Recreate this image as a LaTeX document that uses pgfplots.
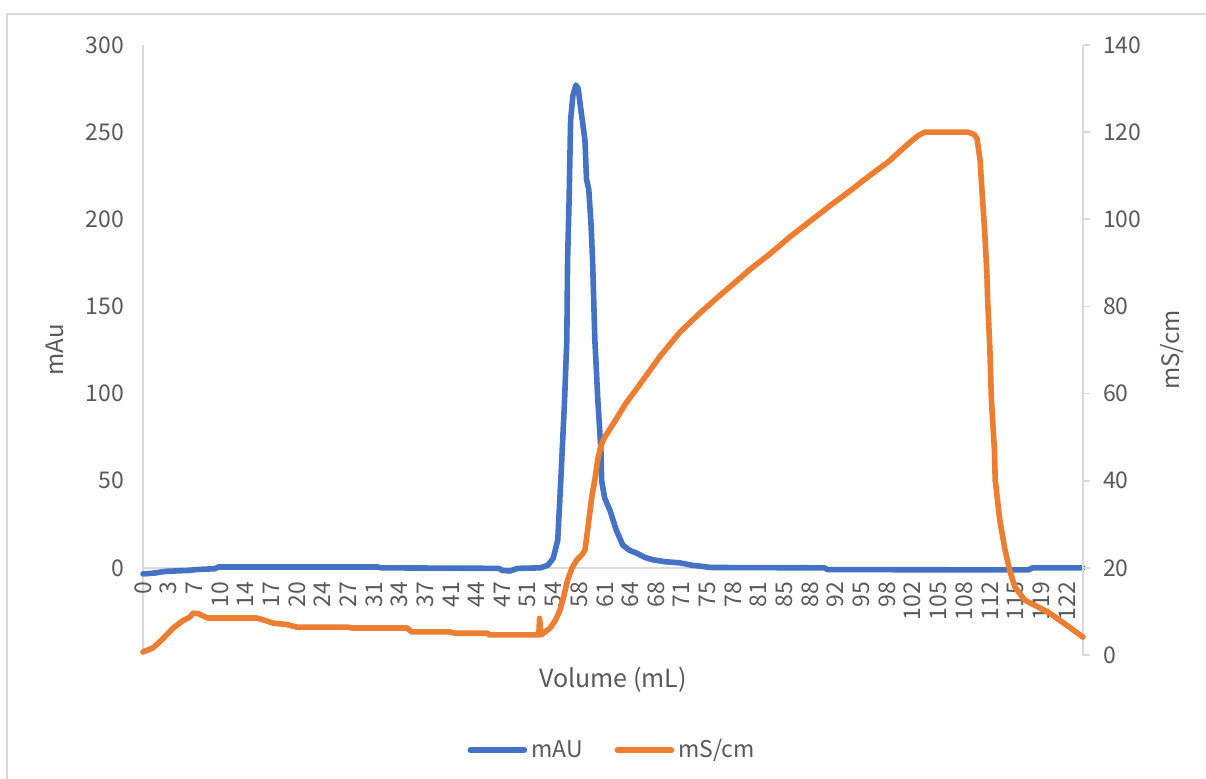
\documentclass[border=0pt]{standalone}
\usepackage{pgfplots}
\pgfplotsset{compat=1.18}
\usepackage{fontspec}
\setmainfont{Noto Sans CJK SC}
\definecolor{cblue}{HTML}{4472C4}
\definecolor{corange}{HTML}{ED7D31}
\definecolor{ctext}{HTML}{595959}
\definecolor{cline}{HTML}{D9D9D9}
\begin{document}
\begin{tikzpicture}
\useasboundingbox (-71.5pt,-62pt) rectangle (531.5pt,327.5pt);
\draw[cline, line width=1pt] (-68pt,-70pt) -- (-68pt,320.5pt) -- (540pt,320.5pt);
\begin{axis}[
  at={(0,0)}, anchor=south west, scale only axis,
  width=470pt, height=305pt,
  xmin=0, xmax=124.2, ymin=-50, ymax=300,
  axis x line*=middle, axis y line*=left,
  hide obscured x ticks=false, hide obscured y ticks=false,
  axis line style={cline, line width=0.8pt},
  major tick length=0pt,
  ytick={0,50,...,300},
  xtick={0,3.39,6.78,10.17,13.56,16.95,20.34,23.73,27.12,30.51,33.9,37.29,40.68,44.07,47.46,50.85,54.24,57.63,61.02,64.41,67.8,71.19,74.58,77.97,81.36,84.75,88.14,91.53,94.92,98.31,101.7,105.09,108.48,111.87,115.26,118.65,122.04},
  xticklabels={0,3,7,10,14,17,20,24,27,31,34,37,41,44,47,51,54,58,61,64,68,71,75,78,81,85,88,92,95,98,102,105,108,112,115,119,122},
  /pgf/number format/assume math mode=true,
  tick label style={font=\fontsize{11.5}{12}\selectfont, text=ctext},
  xticklabel style={rotate=90, anchor=east, xshift=-3.5pt},
  yticklabel style={anchor=east, xshift=-6pt},
  every axis y label/.style={at={(rel axis cs:0,0.5)}, xshift=-44pt, rotate=90, anchor=center, font=\fontsize{12}{13}\selectfont, text=ctext},
  every axis x label/.style={at={(rel axis cs:0.5,0)}, yshift=-12.5pt, anchor=center, font=\fontsize{12.5}{13}\selectfont, text=ctext},
  ylabel={mAu}, xlabel={Volume (mL)},
  clip=false,
]
\addplot[cblue, line width=2.8pt, line join=round, line cap=round] coordinates {
(0,-3.5) (1.5,-3) (3,-2) (6,-1.5) (7,-1) (9.5,-0.5) (10,0.5) (31,0.5) (31.5,0)
(47,-0.3) (47.5,-1.5) (48.5,-1.8) (49.5,-0.3) (52.5,0) (53.5,1.5) (54.2,5.5)
(54.8,16) (55.2,50) (55.7,96) (56.0,131) (56.1,177) (56.3,211) (56.4,234)
(56.5,257) (56.8,271) (57.2,277) (57.5,275) (57.7,268) (58.1,255) (58.4,245)
(58.6,223) (58.9,217) (59.2,197) (59.4,177) (59.7,131) (60.1,96) (60.5,68)
(60.6,50) (61.0,40) (61.7,33) (62.5,22) (63.4,13) (64.3,10) (65.2,8.5)
(66.3,6) (67.4,4.6) (69,3.5) (70.9,2.9) (72.5,1.5) (73.6,1) (75,0.2)
(90,0) (90.5,-1) (117,-1.2) (117.5,0) (124.2,0)
};
\end{axis}
\begin{axis}[
  at={(0,0)}, anchor=south west, scale only axis,
  width=470pt, height=305pt,
  xmin=0, xmax=124.2, ymin=0, ymax=140,
  axis x line=none, axis y line*=right,
  axis line style={cline, line width=0.8pt},
  ytick={0,20,...,140},
  major tick length=3.5pt, tick align=outside,
  major tick style={cline, line width=0.8pt},
  /pgf/number format/assume math mode=true,
  tick label style={font=\fontsize{11.5}{12}\selectfont, text=ctext},
  yticklabel style={anchor=west, xshift=3pt},
  every axis y label/.style={at={(rel axis cs:1,0.5)}, xshift=44.5pt, rotate=90, anchor=center, font=\fontsize{12}{13}\selectfont, text=ctext},
  ylabel={mS/cm},
  legend style={at={(0.5,-0.156)}, anchor=center, draw=none, fill=none, legend columns=2,
    font=\fontsize{11.5}{12}\selectfont, text=ctext,
    /tikz/every even column/.append style={column sep=14pt}},
  legend image code/.code={\draw[#1, line cap=round] (0pt,0pt) -- (27pt,0pt);},
  clip=false,
]
\addlegendimage{cblue, line width=2.8pt}
\addlegendentry{mAU}
\addplot[corange, line width=2.8pt, line join=round, line cap=round] coordinates {
(0,0.7) (1.3,1.6) (2.5,3.5) (4.0,6.2) (5.2,7.8) (6.2,8.7) (6.6,9.6) (7.3,9.5)
(8.5,8.5) (15,8.5) (16,8) (17.2,7.3) (19,7) (20.3,6.4) (27,6.4) (27.6,6.2)
(34.9,6.2) (35.5,5.3) (40.5,5.3) (41.2,5.0) (45.5,5.0) (45.8,4.6) (52.3,4.6)
(52.4,8.4) (52.6,4.6) (53.8,6.2) (54.5,8) (55.1,10.3) (55.6,13.5) (56.1,17.2)
(56.7,20) (57.3,21.8) (58.0,23) (58.4,24.1) (58.8,29.4) (59.3,36.3) (59.7,40.2)
(60.1,45) (60.5,48) (61.0,50) (62.3,53.5) (63.7,57.5) (65.6,62) (68.3,68.5)
(70.9,74) (73.6,78.5) (76.2,82.5) (78.9,86.5) (80.2,88.5) (82.8,92)
(85.5,96) (88.1,99.5) (90.7,103) (93.4,106.5) (96.0,110) (98.7,113.5)
(100,115.6) (101.5,117.9) (102.5,119.3) (103.3,120) (109,120) (109.8,119.5) (110.2,118.5)
(110.6,113.6) (110.8,108) (111.2,97.5) (111.5,87.7) (111.6,81.5) (111.9,70)
(112.1,58.5) (112.5,47) (112.6,40.2) (113.2,31) (113.9,24.1) (114.5,19.5)
(115.2,15.6) (116.5,12.6) (118.5,10.8) (119.8,9.6) (121.1,8) (122.4,6.4) (124.2,4.1)
};
\addlegendentry{mS/cm}
\end{axis}
\end{tikzpicture}
\end{document}
